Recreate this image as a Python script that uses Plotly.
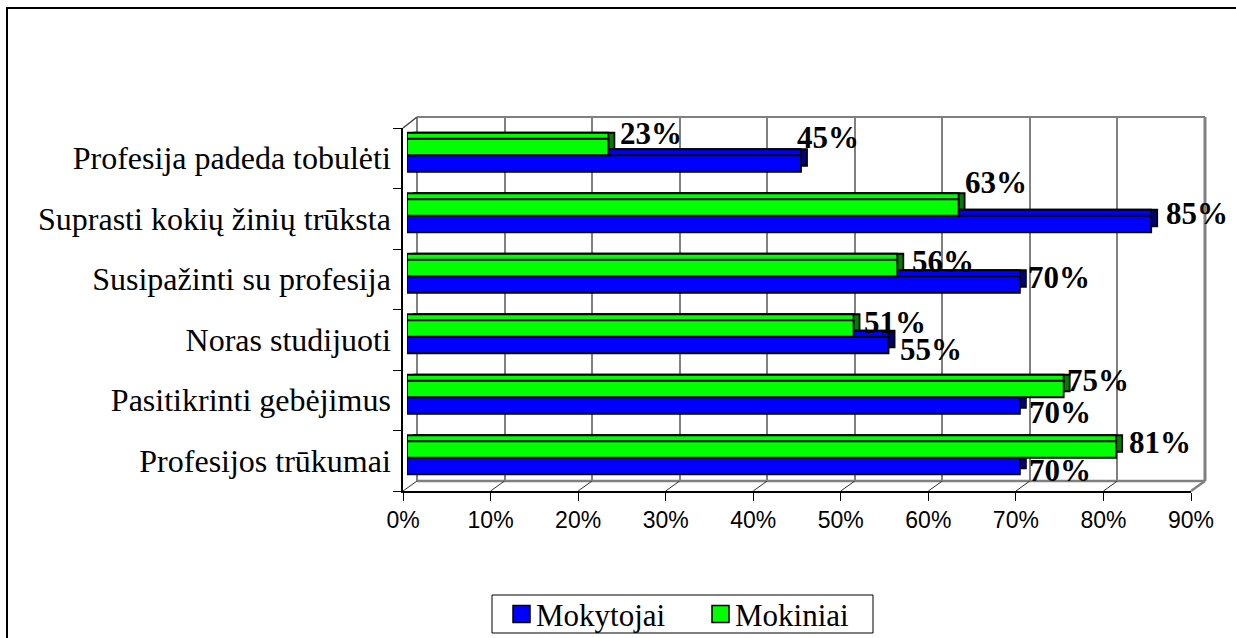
import plotly.graph_objects as go

# ---------------- data ----------------
categories = ["Profesijos trūkumai", "Pasitikrinti gebėjimus", "Noras studijuoti",
              "Susipažinti su profesija", "Suprasti kokių žinių trūksta",
              "Profesija padeda tobulėti"]
mokytojai = [70, 70, 55, 70, 85, 45]
mokiniai = [81, 75, 51, 56, 63, 23]
series_names = ["Mokytojai", "Mokiniai"]
x_ticks = [0, 10, 20, 30, 40, 50, 60, 70, 80, 90]
x_tick_labels = [f"{v}%" for v in x_ticks]

# label nudges in pixels (placement of Excel-style 3D data labels)
lab_dx_mokytojai = [7, 7, 9, 6, 13, -6]
lab_dy_mokytojai = [-13, -15, -13, -1, 2, 18]
lab_dx_mokiniai = [11, 1, 8, 13, 4, 10]
lab_dy_mokiniai = [15, 17, 14, 15, 33, 22]

# ---------------- layout geometry ----------------
W, H = 1236, 638
AX_W = 788                    # pixel width of the 0..90 % scale
FRONT_L, FRONT_T, FRONT_B = 403, 128, 491
DEPTH_X, DEPTH_Y = 14, 10     # wall depth offset
BAR_L, BAR_T, BAR_B = 407, 125, 488
BD = 6                        # bar depth
LEG_L, LEG_R, LEG_T, LEG_B = 492, 873, 595, 633
LEG_ITEM_X = [513, 712]       # legend swatch left edges
LEG_SW = 17                   # swatch size

BLUE, GREEN = "#0000FF", "#00FF00"
BLUE_D, GREEN_D = "#000080", "#008000"
GRAY = "#808080"
SERIF = "Liberation Serif, Times New Roman, serif"
SANS = "Liberation Sans, Arial, sans-serif"


def px(x):
    return x / W


def py(y):
    return 1 - y / H


def xdom(left):
    return [px(left), px(left + AX_W)]


def ydom(top, bottom):
    return [py(bottom), py(top)]


fig = go.Figure()

# front axes (ticks, labels) - invisible helper trace
fig.add_trace(go.Scatter(x=mokytojai, y=categories, mode="markers",
                         marker=dict(opacity=0), hoverinfo="skip",
                         showlegend=False, xaxis="x", yaxis="y"))
# back wall axes
fig.add_trace(go.Scatter(x=[None], y=[None], mode="markers", hoverinfo="skip",
                         showlegend=False, xaxis="x2", yaxis="y2"))

values = [mokytojai, mokiniai]
dark = [BLUE_D, GREEN_D]
bright = [BLUE, GREEN]
# right faces (dark copies), top faces (bright copies), front faces
for axn, cols in (("3", dark), ("4", bright), ("5", bright)):
    for name, vals, col in zip(series_names, values, cols):
        fig.add_trace(go.Bar(
            x=vals, y=categories, orientation="h", name=name,
            marker=dict(color=col, line=dict(color="black", width=1.8)),
            showlegend=False, hoverinfo="skip" if axn != "5" else None,
            xaxis="x" + axn, yaxis="y" + axn))

# data labels
annotations = []
for vals, dxs, dys in ((mokytojai, lab_dx_mokytojai, lab_dy_mokytojai),
                       (mokiniai, lab_dx_mokiniai, lab_dy_mokiniai)):
    for cat, v, dx, dy in zip(categories, vals, dxs, dys):
        annotations.append(dict(
            x=v, y=cat, xref="x5", yref="y5", text=f"{v}%", showarrow=False,
            xanchor="left", yanchor="middle", xshift=dx, yshift=dy,
            font=dict(family=SERIF, size=31, color="black", weight="bold")))

# decorative 3D frame
shapes = []


def line(x0, y0, x1, y1, color=GRAY, width=2):
    shapes.append(dict(type="line", xref="paper", yref="paper",
                       x0=px(x0), y0=py(y0), x1=px(x1), y1=py(y1),
                       line=dict(color=color, width=width), layer="below"))


# outer frame (left and top edges visible)
shapes.append(dict(type="rect", xref="paper", yref="paper",
                   x0=px(7), x1=1.05, y0=-0.05, y1=py(8),
                   line=dict(color="black", width=2), layer="below"))
WL, WT, WR, WB = FRONT_L + DEPTH_X, FRONT_T - DEPTH_Y - 1, FRONT_L + DEPTH_X + AX_W, FRONT_B - DEPTH_Y
line(WL, WT, WR, WT, GRAY, 2)
line(WL, WT, WL, WB, GRAY, 2)
line(WR, WT, WR, WB, GRAY, 3)
line(WL, WB, WR, WB, GRAY, 2.5)
line(FRONT_L + AX_W, FRONT_B, WR, WB, GRAY, 2.5)
line(FRONT_L, FRONT_T, WL, WT, "#404040", 1.5)
for t in x_ticks[:-1]:
    xf = FRONT_L + t / 90 * AX_W
    line(xf, FRONT_B, xf + DEPTH_X, WB, "#303030", 1)

# legend box (drawn so it sits exactly as in the original chart)
shapes.append(dict(type="rect", xref="paper", yref="paper",
                   x0=px(LEG_L), x1=px(LEG_R), y0=py(LEG_B), y1=py(LEG_T),
                   line=dict(color="black", width=1), fillcolor="white",
                   layer="above"))
leg_mid = (LEG_T + LEG_B) / 2
for name, col, lx in zip(series_names, bright, LEG_ITEM_X):
    shapes.append(dict(type="rect", xref="paper", yref="paper",
                       x0=px(lx), x1=px(lx + LEG_SW),
                       y0=py(leg_mid + LEG_SW / 2), y1=py(leg_mid - LEG_SW / 2),
                       line=dict(color="black", width=1.5), fillcolor=col,
                       layer="above"))
    annotations.append(dict(
        x=px(lx + LEG_SW + 4), y=py(leg_mid + 1), xref="paper", yref="paper",
        text=name, showarrow=False, xanchor="left", yanchor="middle",
        font=dict(family=SERIF, size=31, color="black")))

common_hidden = dict(visible=False, range=[0, 90])
cat_hidden = dict(visible=False, type="category", categoryorder="array",
                  categoryarray=categories, range=[-0.5, 5.5])

fig.update_layout(
    width=W, height=H, autosize=False,
    margin=dict(l=0, r=0, t=0, b=0),
    template="none",
    paper_bgcolor="white", plot_bgcolor="rgba(0,0,0,0)",
    barmode="group", bargap=0.455, bargroupgap=0,
    showlegend=False,
    xaxis=dict(domain=xdom(FRONT_L), range=[0, 90], tickvals=x_ticks,
               ticktext=x_tick_labels, ticks="outside", ticklen=8, tickcolor="black",
               tickwidth=1.2, showline=True, linecolor="black", linewidth=1.5,
               showgrid=False, zeroline=False, anchor="y",
               tickfont=dict(family=SANS, size=23, color="black")),
    yaxis=dict(domain=ydom(FRONT_T, FRONT_B), type="category", categoryorder="array",
               categoryarray=categories, range=[-0.5, 5.5], ticks="outside",
               tickson="boundaries", ticklen=8, tickcolor="black", tickwidth=1.2,
               showline=True, linecolor="black", linewidth=1.5, showgrid=False,
               zeroline=False, anchor="x", ticklabelstandoff=4,
               tickfont=dict(family=SERIF, size=32, color="black")),
    xaxis2=dict(domain=xdom(WL), range=[0, 90], tickvals=x_ticks, showgrid=True,
                gridcolor=GRAY, gridwidth=1.5, showticklabels=False, ticks="",
                showline=False, zeroline=False, anchor="y2"),
    yaxis2=dict(domain=ydom(WT, WB), range=[0, 1], visible=False, anchor="x2"),
    xaxis3=dict(domain=xdom(BAR_L + BD), anchor="y3", **common_hidden),
    yaxis3=dict(domain=ydom(BAR_T - BD, BAR_B - BD), anchor="x3", **cat_hidden),
    xaxis4=dict(domain=xdom(BAR_L), anchor="y4", **common_hidden),
    yaxis4=dict(domain=ydom(BAR_T - BD, BAR_B - BD), anchor="x4", **cat_hidden),
    xaxis5=dict(domain=xdom(BAR_L), anchor="y5", **common_hidden),
    yaxis5=dict(domain=ydom(BAR_T, BAR_B), anchor="x5", **cat_hidden),
    annotations=annotations,
    shapes=shapes,
)

# place the figure flush with the page corner (no default body margin)
fig.write_html("out.html",
               config={"displayModeBar": False},
               post_script="document.body.style.margin='0';"
                           "document.documentElement.style.overflow='hidden';")
